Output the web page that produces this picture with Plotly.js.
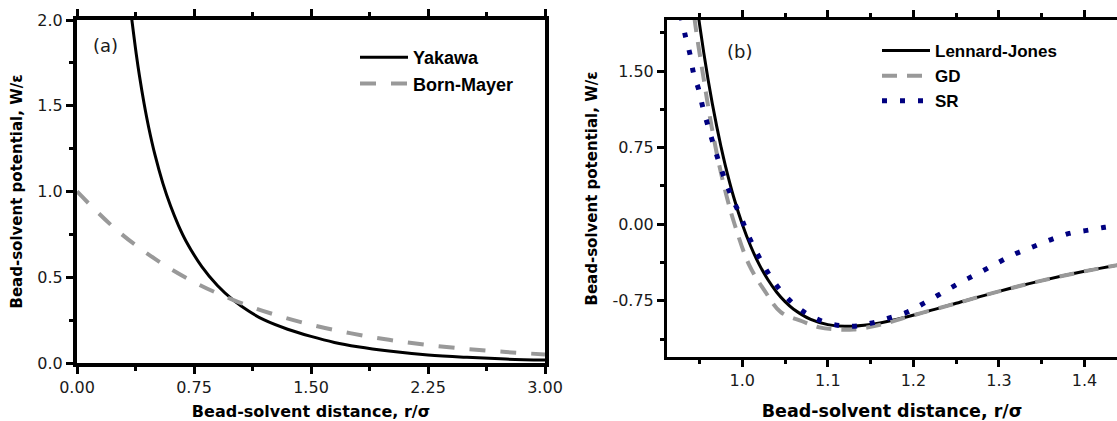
<!DOCTYPE html>
<html><head><meta charset="utf-8">
<script src="https://cdn.plot.ly/plotly-3.0.1.min.js"></script>
<style>html,body{margin:0;padding:0;background:#fff;} #chart{width:1117px;height:421px;}</style>
</head><body><div id="chart"></div>
<script>
// Panel (a)
const yukawaR = [0.35,0.38,0.40,0.43,0.46,0.50,0.55,0.60,0.65,0.70,0.80,0.90,1.00,1.10,1.20,1.35,1.50,1.65,1.80,2.00,2.25,2.50,2.75,3.00];
const yukawaW = [2.013,1.800,1.676,1.513,1.372,1.213,1.049,0.915,0.803,0.709,0.562,0.452,0.368,0.303,0.251,0.197,0.155,0.120,0.095,0.070,0.047,0.033,0.023,0.017];
const bornR = [0,0.25,0.50,0.75,1.00,1.25,1.50,1.75,2.00,2.25,2.50,2.75,3.00];
const bornW = [1.000,0.779,0.607,0.472,0.368,0.287,0.223,0.174,0.135,0.105,0.082,0.064,0.050];
const tickA_x = [0,0.75,1.5,2.25,3.0];
const tickA_xText = ["0.00","0.75","1.50","2.25","3.00"];
const tickA_y = [0,0.5,1.0,1.5,2.0];
const tickA_yText = ["0.0","0.5","1.0","1.5","2.0"];

// Panel (b)
const ljR = [0.945,0.95,0.955,0.96,0.965,0.97,0.975,0.98,0.99,1.00,1.01,1.02,1.03,1.04,1.05,1.06,1.08,1.10,1.12,1.15,1.18,1.21,1.25,1.30,1.35,1.40,1.45];
const ljW = [2.27,1.961,1.678,1.418,1.180,0.963,0.764,0.582,0.264,0,-0.218,-0.398,-0.544,-0.663,-0.758,-0.832,-0.932,-0.983,-1.000,-0.982,-0.933,-0.868,-0.774,-0.657,-0.552,-0.461,-0.384];
const gdR = [0.941,0.945,0.955,0.964,0.973,0.982,0.991,1.008,1.027,1.045,1.07,1.09,1.11,1.13,1.15,1.17,1.19,1.21,1.25,1.30,1.35,1.40,1.45];
const gdW = [2.27,1.961,1.418,0.963,0.582,0.264,0,-0.398,-0.663,-0.86,-0.95,-1.01,-1.03,-1.03,-1.005,-0.965,-0.915,-0.868,-0.775,-0.657,-0.552,-0.461,-0.384];
const srR = [0.928,0.933,0.939,0.943,0.949,0.954,0.960,0.966,0.973,0.980,0.988,0.998,1.006,1.017,1.029,1.043,1.064,1.085,1.106,1.128,1.150,1.171,1.193,1.213,1.234,1.255,1.276,1.298,1.319,1.340,1.361,1.382,1.403,1.424,1.445];
const srW = [2.05,1.86,1.66,1.48,1.32,1.14,0.96,0.79,0.60,0.43,0.26,0.08,-0.09,-0.28,-0.46,-0.63,-0.81,-0.92,-0.98,-1.00,-0.97,-0.92,-0.86,-0.77,-0.67,-0.57,-0.48,-0.38,-0.29,-0.22,-0.15,-0.09,-0.06,-0.03,-0.01];
const tickB_x = [1.0,1.1,1.2,1.3,1.4];
const tickB_xText = ["1.0","1.1","1.2","1.3","1.4"];
const tickB_y = [-0.75,0,0.75,1.5];
const tickB_yText = ["-0.75","0.00","0.75","1.50"];

const W = 1117, H = 421;
const tickFont = {family: "DejaVu Sans", size: 16, color: "#1a1a1a"};
const titleFont = {family: "DejaVu Sans", size: 17, weight: 700, color: "#000"};

const traces = [
  {x: yukawaR, y: yukawaW, mode: "lines", name: "Yakawa", line: {color: "#000", width: 3, shape: "spline"}, xaxis: "x", yaxis: "y", legend: "legend"},
  {x: bornR, y: bornW, mode: "lines", name: "Born-Mayer", line: {color: "#999", width: 4, dash: "16px,15px", shape: "spline"}, xaxis: "x", yaxis: "y", legend: "legend"},
  {x: ljR, y: ljW, mode: "lines", name: "Lennard-Jones", line: {color: "#000", width: 3, shape: "spline"}, xaxis: "x2", yaxis: "y2", legend: "legend2"},
  {x: gdR, y: gdW, mode: "lines", name: "GD", line: {color: "#999", width: 4, dash: "15px,10px", shape: "spline"}, xaxis: "x2", yaxis: "y2", legend: "legend2"},
  {x: srR, y: srW, mode: "lines", name: "SR", line: {color: "#000080", width: 5, dash: "5px,13px", shape: "spline"}, xaxis: "x2", yaxis: "y2", legend: "legend2"}
];

function axisBase(extra) {
  return Object.assign({
    showline: true, linecolor: "#000", showgrid: false, zeroline: false,
    ticks: "outside", ticklen: 7, tickwidth: 3, tickcolor: "#000",
    tickmode: "array", tickfont: tickFont, fixedrange: true
  }, extra);
}

const layout = {
  width: W, height: H,
  margin: {l: 0, r: 0, t: 0, b: 0},
  paper_bgcolor: "#fff", plot_bgcolor: "#fff",
  xaxis: axisBase({
    domain: [77/W, 545/W], range: [0, 3], anchor: "y", linewidth: 4, mirror: "ticks",
    tickvals: tickA_x, ticktext: tickA_xText,
    minor: {tick0: 0, dtick: 0.375, ticks: "outside", ticklen: 4, tickwidth: 3, tickcolor: "#000"},
    title: {text: "Bead-solvent distance, r/σ", font: Object.assign({}, titleFont, {size: 16}), standoff: 14}
  }),
  yaxis: axisBase({
    domain: [1 - 363/H, 1 - 20/H], range: [0, 2], anchor: "x", linewidth: 4, mirror: true,
    tickvals: tickA_y, ticktext: tickA_yText,
    minor: {tick0: 0, dtick: 0.25, ticks: "outside", ticklen: 4, tickwidth: 3, tickcolor: "#000"},
    title: {text: "Bead-solvent potential, W/ε", font: Object.assign({}, titleFont, {size: 15}), standoff: 12}
  }),
  xaxis2: axisBase({
    domain: [667/W, 1], range: [0.912, 1.438], anchor: "y2", linewidth: 3, mirror: "ticks",
    tickvals: tickB_x, ticktext: tickB_xText,
    minor: {tick0: 1.0, dtick: 0.05, ticks: "outside", ticklen: 4, tickwidth: 3, tickcolor: "#000"},
    title: {text: "Bead-solvent distance, r/σ", font: Object.assign({}, titleFont, {size: 17.5}), standoff: 22}
  }),
  yaxis2: axisBase({
    domain: [1 - 357/H, 1 - 20/H], range: [-1.3, 2.0], anchor: "x2", linewidth: 3, mirror: false,
    tickvals: tickB_y, ticktext: tickB_yText,
    minor: {tick0: 0, dtick: 0.375, ticks: "outside", ticklen: 4, tickwidth: 3, tickcolor: "#000"},
    title: {text: "Bead-solvent potential, W/ε", font: Object.assign({}, titleFont, {size: 15}), standoff: 12}
  }),
  legend: {
    x: 355/W, y: 1 - 39/H, xanchor: "left", yanchor: "top",
    bgcolor: "rgba(0,0,0,0)", borderwidth: 0, itemwidth: 48,
    font: {family: "Liberation Sans", size: 18, weight: 700, color: "#000"}
  },
  legend2: {
    x: 877/W, y: 1 - 33/H, xanchor: "left", yanchor: "top",
    bgcolor: "rgba(0,0,0,0)", borderwidth: 0, itemwidth: 48,
    font: {family: "Liberation Sans", size: 17, weight: 700, color: "#000"}
  },
  annotations: [
    {text: "(a)", xref: "paper", yref: "paper", x: 105/W, y: 1 - 45/H, xanchor: "center", yanchor: "middle", showarrow: false, font: {family: "DejaVu Sans", size: 18, color: "#1a1a1a"}},
    {text: "(b)", xref: "paper", yref: "paper", x: 739/W, y: 1 - 52/H, xanchor: "center", yanchor: "middle", showarrow: false, font: {family: "DejaVu Sans", size: 18, color: "#1a1a1a"}}
  ],
  showlegend: true
};

Plotly.newPlot("chart", traces, layout, {staticPlot: true, displayModeBar: false});
</script>
</body></html>
